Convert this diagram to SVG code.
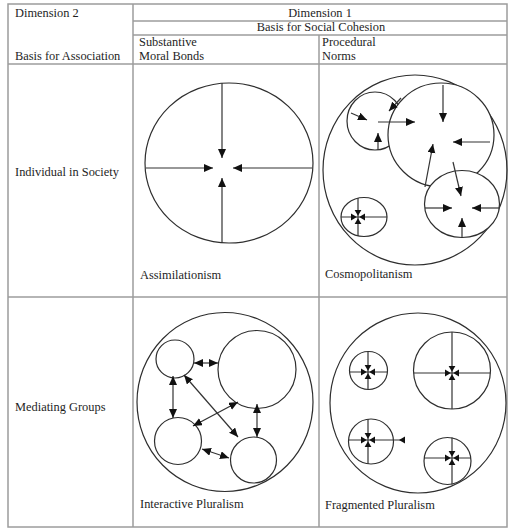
<svg xmlns="http://www.w3.org/2000/svg" xmlns:xlink="http://www.w3.org/1999/xlink" width="509" height="529" viewBox="0 0 509 529">
<style>
.grid{stroke:#9c9c9c;stroke-width:1.5;fill:none}
.c{stroke:#2e2e2e;stroke-width:1.2;fill:none}
.cw{stroke:#2e2e2e;stroke-width:1.2;fill:#fff}
.ln{stroke:#333;stroke-width:1.2;fill:none}
.a{stroke:#333;stroke-width:1.2;fill:none;marker-end:url(#ah)}
.d{stroke:#333;stroke-width:1.2;fill:none;marker-end:url(#ah);marker-start:url(#ah)}
text{font-family:"Liberation Serif","Times New Roman",serif;font-size:12.4px;fill:#1e1e1e}
</style>
<defs>
<marker id="ah" markerWidth="10" markerHeight="9" refX="9" refY="4" orient="auto-start-reverse" markerUnits="userSpaceOnUse">
<path d="M0,0 L9,4 L0,8 z" fill="#111"/>
</marker>
<g id="clover" fill="#111">
<polygon points="0,-1.2 -3.4,-7 3.4,-7"/>
<polygon points="0,1.2 -3.4,7 3.4,7"/>
<polygon points="-1.2,0 -7,-3.4 -7,3.4"/>
<polygon points="1.2,0 7,-3.4 7,3.4"/>
</g>
</defs>
<rect width="509" height="529" fill="#fff"/>
<g id="table">
<rect class="grid" x="8" y="4" width="499" height="523"/>
<line class="grid" x1="133" y1="4" x2="133" y2="527"/>
<line class="grid" x1="319" y1="35" x2="319" y2="527"/>
<line class="grid" x1="133" y1="21" x2="507" y2="21"/>
<line class="grid" x1="133" y1="35" x2="507" y2="35"/>
<line class="grid" x1="8" y1="64" x2="507" y2="64"/>
<line class="grid" x1="8" y1="297" x2="507" y2="297"/>
</g>
<g id="headers" font-family="Liberation Serif, serif">
<text x="15" y="17">Dimension 2</text>
<text x="320" y="17" text-anchor="middle">Dimension 1</text>
<text x="321" y="31" text-anchor="middle">Basis for Social Cohesion</text>
<text x="139" y="46">Substantive</text>
<text x="139" y="60">Moral Bonds</text>
<text x="322" y="46">Procedural</text>
<text x="322" y="60">Norms</text>
<text x="15" y="60">Basis for Association</text>
<text x="15" y="176">Individual in Society</text>
<text x="15" y="411">Mediating Groups</text>
</g>
<g id="assimilationism">
<ellipse class="c" cx="229" cy="163" rx="84" ry="80"/>
<g id="assim-connectors">
<line class="a" x1="222" y1="83" x2="222" y2="158"/>
<line class="a" x1="222" y1="243" x2="222" y2="178"/>
<line class="a" x1="146" y1="168" x2="213" y2="168"/>
<line class="a" x1="312" y1="168" x2="233" y2="168"/>
</g>
<text x="140" y="279">Assimilationism</text>
</g>
<g id="cosmopolitanism">
<ellipse class="c" cx="415" cy="170" rx="92" ry="95"/>
<ellipse class="cw" cx="375" cy="121" rx="28" ry="29"/>
<ellipse class="cw" cx="441" cy="135" rx="53" ry="52"/>
<ellipse class="cw" cx="462" cy="204" rx="37.5" ry="33.5"/>
<ellipse class="cw" cx="364" cy="217" rx="23" ry="19.5"/>
<g id="cosmo-connectors">
<line class="a" x1="351" y1="113" x2="367" y2="120"/>
<line class="a" x1="401" y1="98" x2="389" y2="111"/>
<line class="a" x1="378" y1="150" x2="378" y2="133"/>
<line class="a" x1="378" y1="122" x2="415" y2="122"/>
<line class="a" x1="443" y1="85" x2="443" y2="122"/>
<line class="a" x1="490" y1="142" x2="453" y2="142"/>
<line class="a" x1="425" y1="187" x2="433" y2="144"/>
<line class="a" x1="453" y1="162" x2="461" y2="196"/>
<line class="a" x1="425" y1="208" x2="452" y2="208"/>
<line class="a" x1="499" y1="208" x2="472" y2="208"/>
<line class="a" x1="462" y1="237" x2="462" y2="218"/>
<line class="ln" x1="341" y1="217" x2="387" y2="217"/>
<line class="ln" x1="358" y1="198" x2="358" y2="236"/>
<use xlink:href="#clover" x="358" y="217"/>
</g>
<text x="325" y="278">Cosmopolitanism</text>
</g>
<g id="interactive-pluralism">
<ellipse class="c" cx="225" cy="402" rx="88" ry="89.5"/>
<circle class="c" cx="175" cy="359" r="19"/>
<circle class="c" cx="257" cy="369.5" r="39"/>
<circle class="c" cx="178" cy="441" r="23.5"/>
<circle class="c" cx="253.5" cy="460" r="23"/>
<g id="inter-connectors">
<line class="d" x1="194" y1="363" x2="218" y2="363"/>
<line class="d" x1="173" y1="376" x2="173" y2="418"/>
<line class="d" x1="257" y1="404" x2="257" y2="437"/>
<line class="d" x1="202" y1="449" x2="229" y2="458"/>
<line class="d" x1="184" y1="375" x2="238" y2="437"/>
<line class="d" x1="193" y1="426" x2="238" y2="402"/>
</g>
<text x="140" y="508">Interactive Pluralism</text>
</g>
<g id="fragmented-pluralism">
<ellipse class="c" cx="418" cy="403" rx="88" ry="90"/>
<circle class="c" cx="368.5" cy="370.5" r="19"/>
<circle class="c" cx="452" cy="370.5" r="38.5"/>
<circle class="c" cx="371" cy="441.5" r="22.5"/>
<circle class="c" cx="447.5" cy="461" r="23.5"/>
<g id="frag-connectors">
<line class="ln" x1="349.5" y1="372" x2="387.5" y2="372"/>
<line class="ln" x1="368" y1="351.5" x2="368" y2="389.5"/>
<use xlink:href="#clover" x="368" y="372"/>
<line class="ln" x1="413.5" y1="373" x2="490.5" y2="373"/>
<line class="ln" x1="452" y1="332" x2="452" y2="409"/>
<use xlink:href="#clover" x="452" y="373"/>
<line class="ln" x1="348.5" y1="440" x2="405" y2="440"/>
<polygon points="399,440 405,436.5 405,443.5" fill="#111"/>
<line class="ln" x1="368" y1="419" x2="368" y2="464"/>
<use xlink:href="#clover" x="368" y="440"/>
<line class="ln" x1="424" y1="458" x2="471" y2="458"/>
<line class="ln" x1="452" y1="437.5" x2="452" y2="484.5"/>
<use xlink:href="#clover" x="452" y="458"/>
</g>
<text x="325" y="509">Fragmented Pluralism</text>
</g>
</svg>
